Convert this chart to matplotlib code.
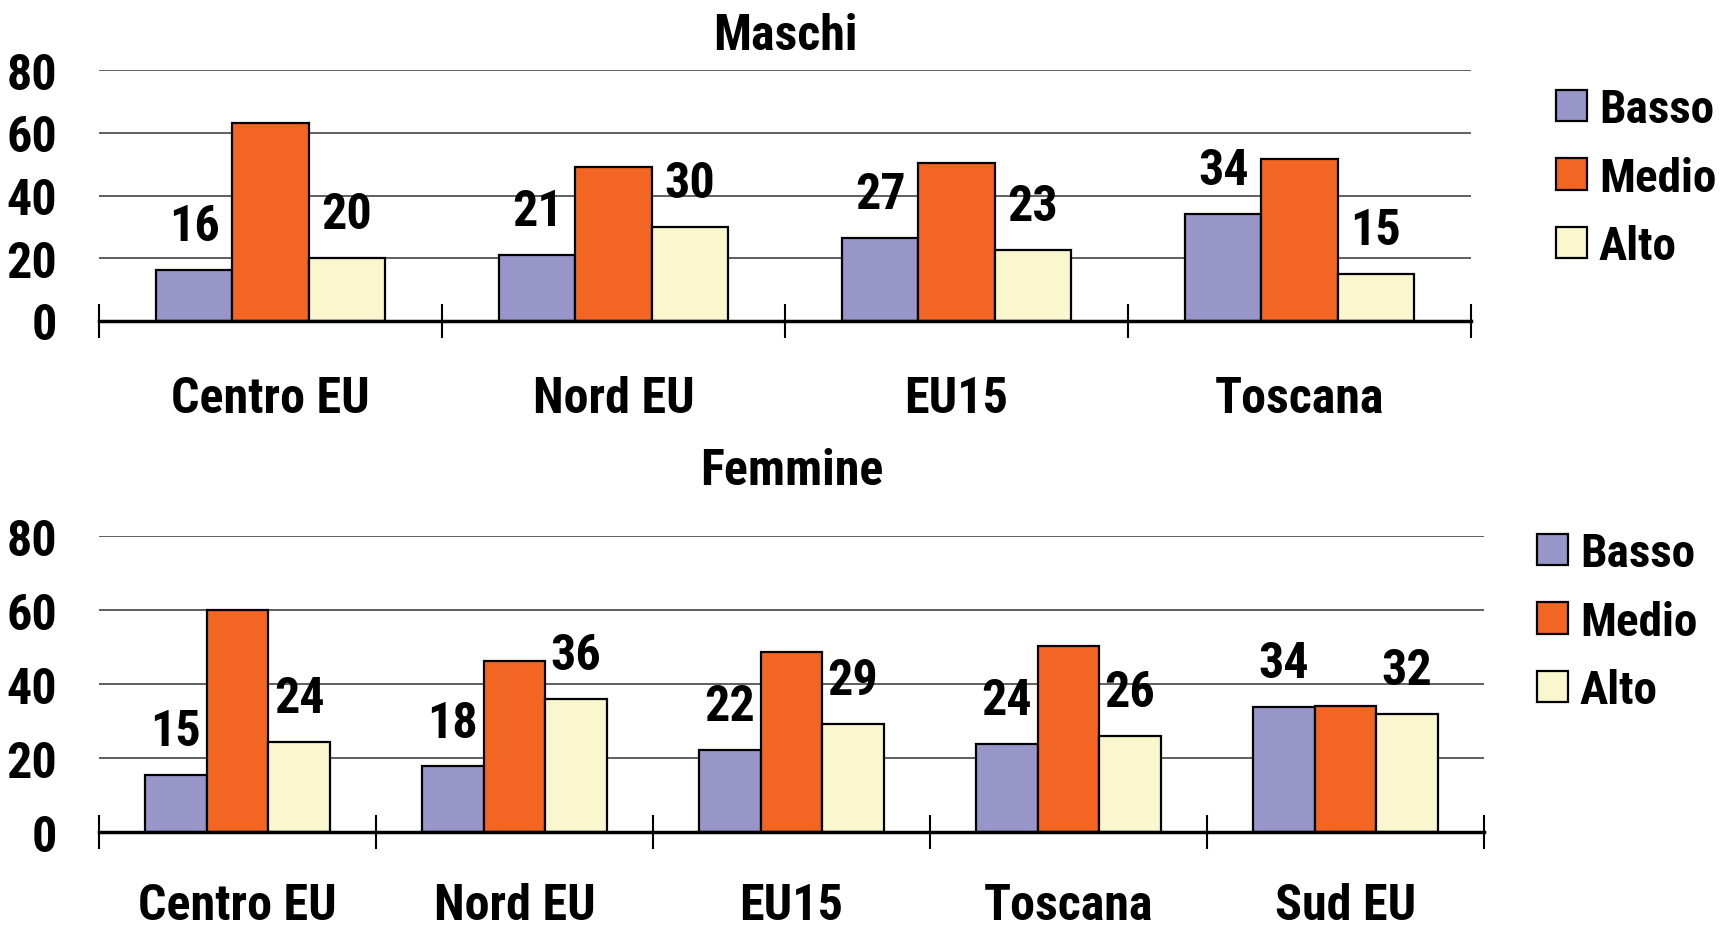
import matplotlib
matplotlib.use("Agg")
import matplotlib.pyplot as plt
from matplotlib.patches import Patch
import numpy as np

# ---- data ----
series = ["Basso", "Medio", "Alto"]
colors = ["#9896C8", "#F26522", "#FAF7CE"]

cats_m = ["Centro EU", "Nord EU", "EU15", "Toscana"]
basso_m = [16.4, 21, 26.6, 34]
medio_m = [63, 49, 50.5, 51.5]
alto_m = [20, 30, 22.6, 15]

cats_f = ["Centro EU", "Nord EU", "EU15", "Toscana", "Sud EU"]
basso_f = [15.4, 17.8, 22.2, 24, 34]
medio_f = [60.2, 46.4, 48.8, 50.3, 34.2]
alto_f = [24.4, 36, 29.3, 26, 32]

yticks = [0, 20, 40, 60, 80]

plt.rcParams['font.family'] = ['Roboto Condensed', 'Liberation Sans', 'DejaVu Sans']
plt.rcParams['font.weight'] = 'bold'
FS = 36
LFS = 34

W, H = 1724, 929
fig = plt.figure(figsize=(W / 100, H / 100), dpi=100)


def fx(px):
    return px / W


def fy(py):
    return 1 - py / H


def make_axes(left, right, y0, y80):
    return fig.add_axes([fx(left), fy(y0), fx(right - left), (y0 - y80) / H])


def draw(ax, cats, vals, title, title_y, leg_x, leg_y, xpad):
    n = len(cats)
    x = np.arange(n)
    w = 0.667 / 3
    for i, (s, c, v) in enumerate(zip(series, colors, vals)):
        pos = x + (i - 1) * w
        ax.bar(pos, v, width=w, color=c, edgecolor="black", linewidth=1.6,
               label=s, zorder=3)
        if s != "Medio":
            for xx, vv in zip(pos, v):
                ax.annotate(f"{round(vv):d}", xy=(xx, vv), xytext=(0, 21.5),
                            textcoords="offset points", ha="center",
                            va="baseline", fontsize=FS, fontweight="bold")
    ax.set_xlim(-0.5, n - 0.5)
    ax.set_ylim(0, 80)
    ax.set_yticks(yticks)
    ax.set_yticklabels([str(t) for t in yticks], fontsize=FS, fontweight="bold")
    ax.tick_params(axis="y", length=0, pad=30)
    ax.set_xticks(x)
    ax.set_xticklabels(cats, fontsize=FS, fontweight="bold")
    ax.tick_params(axis="x", which="major", length=0, pad=xpad)
    ax.set_xticks(np.arange(n + 1) - 0.5, minor=True)
    ax.tick_params(axis="x", which="minor", direction="inout", length=24,
                   width=1.5, color="black")
    ax.yaxis.grid(True, color="#444444", linewidth=1.2)
    ax.set_axisbelow(True)
    for sp in ["top", "left", "right"]:
        ax.spines[sp].set_visible(False)
    ax.spines["bottom"].set_linewidth(2.5)
    ax.spines["bottom"].set_zorder(4)
    cx = (ax.get_position().x0 + ax.get_position().x1) / 2
    fig.text(cx, fy(title_y), title, ha="center", va="baseline",
             fontsize=FS, fontweight="bold")
    handles = [Patch(facecolor=c, edgecolor="black", linewidth=1.6) for c in colors]
    fig.legend(handles, series, loc="upper left",
               bbox_to_anchor=(fx(leg_x), fy(leg_y)), frameon=False,
               prop={"weight": "bold", "size": LFS},
               handlelength=0.66, handleheight=0.66, handletextpad=0.25,
               labelspacing=0.52, borderpad=0, borderaxespad=0)


ax1 = make_axes(99, 1471, 322, 71)
draw(ax1, cats_m, [basso_m, medio_m, alto_m], "Maschi", 50, 1556, 88, 39)

ax2 = make_axes(99, 1484, 833.3, 537.3)
draw(ax2, cats_f, [basso_f, medio_f, alto_f], "Femmine", 485, 1537, 532, 36)

fig.savefig("out.png", dpi=100)
